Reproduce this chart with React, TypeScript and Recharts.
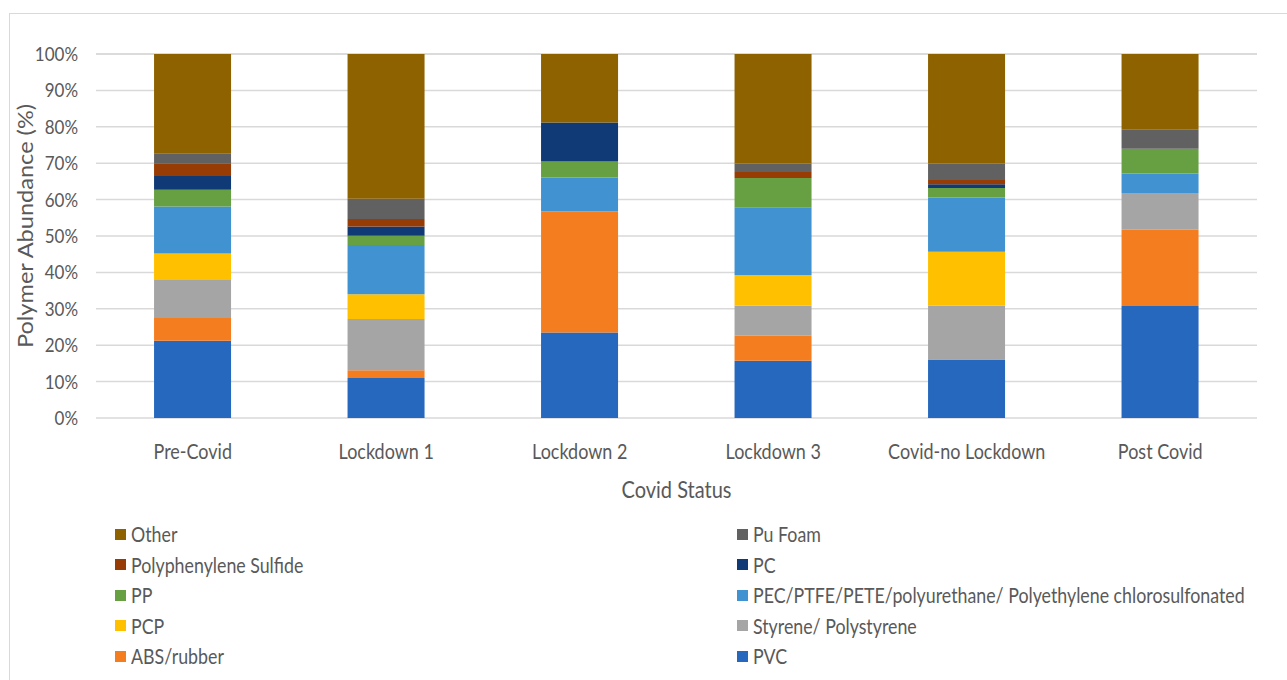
import { BarChart, Bar, XAxis, YAxis, CartesianGrid, Label } from 'recharts';

const statuses = ['Pre-Covid', 'Lockdown 1', 'Lockdown 2', 'Lockdown 3', 'Covid-no Lockdown', 'Post Covid'];

// share of each polymer per period, in percent (bottom of the stack first)
const pvc = [21.2, 11.0, 23.5, 15.7, 16.1, 30.8];
const absRubber = [6.3, 2.1, 33.2, 6.9, 0, 20.9];
const styrene = [10.4, 14.1, 0, 8.3, 14.8, 10.1];
const pcp = [7.3, 6.8, 0, 8.4, 14.8, 0];
const pecGroup = [12.9, 13.5, 9.4, 18.6, 14.9, 5.4];
const pp = [4.6, 2.6, 4.4, 8.0, 2.6, 6.8];
const pc = [3.8, 2.5, 10.7, 0, 1.0, 0];
const pps = [3.5, 2.1, 0, 1.7, 1.2, 0];
const puFoam = [2.7, 5.5, 0, 2.3, 4.5, 5.3];
const other = [27.3, 39.8, 18.8, 30.1, 30.1, 20.7];

const yTicks = [0, 10, 20, 30, 40, 50, 60, 70, 80, 90, 100];

const series = [
  { key: 'pvc', name: 'PVC', values: pvc, color: '#2568BE' },
  { key: 'abs', name: 'ABS/rubber', values: absRubber, color: '#F47D20' },
  { key: 'styrene', name: 'Styrene/ Polystyrene', values: styrene, color: '#A5A5A5' },
  { key: 'pcp', name: 'PCP', values: pcp, color: '#FFC000' },
  { key: 'pec', name: 'PEC/PTFE/PETE/polyurethane/ Polyethylene chlorosulfonated', values: pecGroup, color: '#4192D0' },
  { key: 'pp', name: 'PP', values: pp, color: '#66A043' },
  { key: 'pc', name: 'PC', values: pc, color: '#0F3A75' },
  { key: 'pps', name: 'Polyphenylene Sulfide', values: pps, color: '#973C04' },
  { key: 'pu', name: 'Pu Foam', values: puFoam, color: '#616161' },
  { key: 'other', name: 'Other', values: other, color: '#8F6200' },
];

const data = statuses.map((status, i) => {
  const row: Record<string, string | number> = { status };
  series.forEach(s => { row[s.key] = s.values[i]; });
  return row;
});

const FONT = 'Lato, "Open Sans", sans-serif';
const TEXT = '#595959';
// glyphs are drawn a little taller than wide
const STRETCH = 1.15;

const XTick = ({ x, y, payload }: any) => (
  <g transform={`translate(${x},${y + 35}) scale(1,${STRETCH})`}>
    <text x={0} y={0} textAnchor="middle" fill={TEXT} fontSize={18} fontFamily={FONT}>
      {payload.value}
    </text>
  </g>
);

const YTick = ({ x, y, payload }: any) => (
  <g transform={`translate(${x},${y}) scale(1,${STRETCH})`}>
    <text x={0} y={0} dy="0.36em" textAnchor="end" fill={TEXT} fontSize={17} fontFamily={FONT}>
      {`${payload.value}%`}
    </text>
  </g>
);

export default function App() {
  const legendItems = [...series].reverse();

  return (
    <div style={{ position: 'absolute', left: 0, top: 0, width: 1287, height: 680, background: '#fff', fontFamily: FONT }}>
      <div style={{ position: 'absolute', left: 9, top: 13, width: 1278, height: 667, borderTop: '1px solid #D9D9D9', borderLeft: '1px solid #D9D9D9' }} />
      <div style={{ position: 'absolute', left: 0, top: 0 }}>
        <BarChart
          width={1287}
          height={680}
          data={data}
          margin={{ top: 54, right: 30, bottom: 182, left: 0 }}
          barCategoryGap="30%"
        >
          <CartesianGrid vertical={false} stroke="#D9D9D9" strokeWidth={1.5} />
          <XAxis
            dataKey="status"
            height={80}
            axisLine={false}
            tickLine={false}
            tickMargin={0}
            tick={<XTick />}
          >
            <Label
              content={({ viewBox }: any) => (
                <g transform={`translate(${viewBox.x + viewBox.width / 2},${viewBox.y + 80}) scale(1,${STRETCH})`}>
                  <text x={0} y={0} textAnchor="middle" fill={TEXT} fontSize={20} fontFamily={FONT}>
                    Covid Status
                  </text>
                </g>
              )}
            />
          </XAxis>
          <YAxis
            width={96}
            domain={[0, 100]}
            ticks={yTicks}
            axisLine={false}
            tickLine={false}
            tickMargin={12}
            tick={<YTick />}
          >
            <Label
              content={() => (
                <g transform={`translate(26,226) rotate(-90) scale(${STRETCH},1)`}>
                  <text x={0} y={0} dy="0.36em" textAnchor="middle" fill={TEXT} fontSize={20.5} fontFamily={FONT}>
                    Polymer Abundance (%)
                  </text>
                </g>
              )}
            />
          </YAxis>
          {series.map(s => (
            <Bar key={s.key} dataKey={s.key} name={s.name} stackId="a" fill={s.color} isAnimationActive={false} />
          ))}
        </BarChart>
      </div>
      <div
        style={{
          position: 'absolute',
          left: 115,
          top: 519,
          display: 'grid',
          gridTemplateColumns: '622px auto',
          gridAutoRows: '30.5px',
          fontSize: 17.8,
          color: TEXT,
        }}
      >
        {legendItems.map(s => (
          <div key={s.key} style={{ display: 'flex', alignItems: 'center', whiteSpace: 'nowrap' }}>
            <span style={{ display: 'inline-block', width: 11, height: 11, background: s.color, marginRight: 5 }} />
            <span style={{ display: 'inline-block', transform: `scaleY(${STRETCH})` }}>{s.name}</span>
          </div>
        ))}
      </div>
    </div>
  );
}
